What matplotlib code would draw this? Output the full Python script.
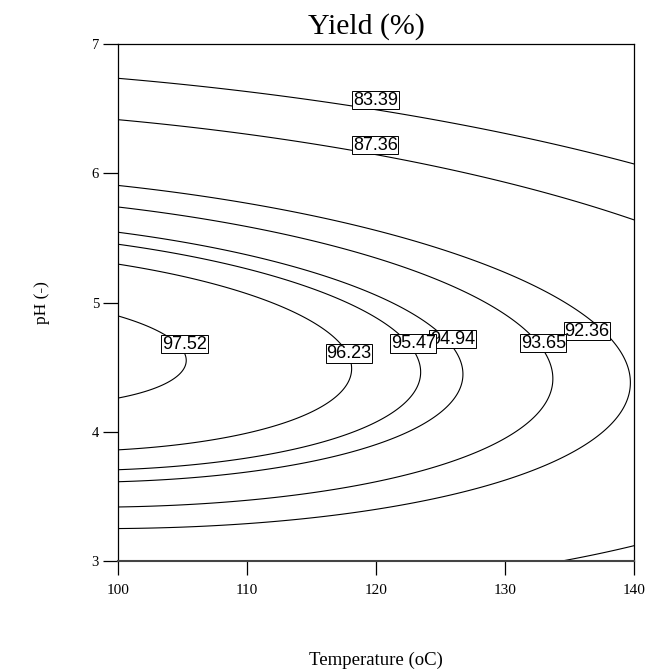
import numpy as np
import matplotlib
matplotlib.use("Agg")
import matplotlib.pyplot as plt

# Quadratic response surface for Yield (%), actual factors T (oC) and pH
# Y = b0 + bT*T + bP*pH + bTT*T^2 + bPP*pH^2 + bTP*T*pH
coef_names = ['b0', 'bT', 'bP', 'bTT', 'bPP', 'bTP']
coef_values = [-0.222, 0.567, 31.484, -0.0023615, -3.1, -0.031]

# contour levels shown on the plot
levels = [83.39, 87.36, 92.36, 93.65, 94.94, 95.47, 96.23, 97.52]

temp_range = [100, 140]
ph_range = [3, 7]
temp_ticks = [100, 110, 120, 130, 140]
ph_ticks = [3, 4, 5, 6, 7]

b = dict(zip(coef_names, coef_values))

T = np.linspace(temp_range[0], temp_range[1], 401)
P = np.linspace(ph_range[0], ph_range[1], 401)
TT, PP = np.meshgrid(T, P)
Y = (b['b0'] + b['bT'] * TT + b['bP'] * PP + b['bTT'] * TT ** 2
     + b['bPP'] * PP ** 2 + b['bTP'] * TT * PP)

plt.rcParams['font.family'] = ['Liberation Serif', 'DejaVu Serif']

fig = plt.figure(figsize=(6.45, 6.72), dpi=100)
ax = fig.add_axes([0.1825, 0.1656, 0.8008, 0.7685])

cs = ax.contour(TT, PP, Y, levels=levels, colors='black', linewidths=0.8)

# where the label boxes sit in the original (they sit a bit off the lines)
label_spots = [(119.95, 6.568), (119.95, 6.219), (136.34, 4.779),
               (132.95, 4.686), (125.91, 4.716), (122.89, 4.681),
               (117.91, 4.605), (105.18, 4.677)]
labels = ax.clabel(cs, fmt='%.2f', manual=label_spots, inline=False,
                   fontsize=13)
for t, spot in zip(labels, label_spots):
    t.set_position(spot)
    t.set_rotation(0)
    t.set_fontfamily(['Liberation Sans', 'DejaVu Sans'])
    t.set_bbox(dict(boxstyle='square,pad=0.04', facecolor='white',
                    edgecolor='black', linewidth=0.7))
    t.set_zorder(5)

ax.set_xlim(temp_range)
ax.set_ylim(ph_range)
ax.set_xticks(temp_ticks)
ax.set_yticks(ph_ticks)
ax.tick_params(axis='x', direction='out', length=10, width=0.9,
               labelsize=11, pad=7)
ax.tick_params(axis='y', direction='out', length=10.5, width=0.9,
               labelsize=10.5, pad=3)
for s in ax.spines.values():
    s.set_linewidth(0.9)
ax.spines['bottom'].set_linewidth(1.5)
ax.spines['bottom'].set_color('#444444')

ax.set_title('Yield (%)', fontsize=21.5, pad=8, x=0.481)
ax.set_xlabel('Temperature (oC)', fontsize=13.5, labelpad=39)
ax.set_ylabel('pH (-)', fontsize=12.5, labelpad=30)

fig.savefig('out.png', dpi=100)
